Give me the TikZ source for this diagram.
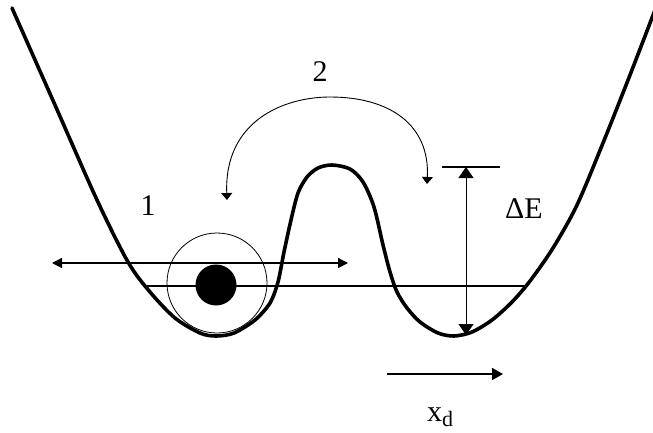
\documentclass[tikz,border=0pt]{standalone}
\usepackage{fontspec}
\setmainfont{Liberation Serif}
\usetikzlibrary{arrows.meta}
\begin{document}
\begin{tikzpicture}[x=1pt,y=-1pt,
  pot/.style={line width=3.6pt,line join=round,line cap=round},
  thin/.style={line width=1.3pt},
  lbl/.style={font=\fontsize{30}{30}\selectfont,inner sep=0pt}]
\useasboundingbox (0,0) rectangle (653,433);
% potential curve
\draw[pot] plot[smooth,tension=0.5] coordinates {
 (12,8) (55,105) (97,200) (128,262) (150,292) (175,318) (200,333)
 (216,336) (234,333) (255,320) (270,303) (278,282) (284,252) (291,220) (298,193) (307,177)
 (318,168) (332,165) (350,169) (363,182) (374,207) (383,245) (390,272) (397,292)
 (407,308) (420,322) (438,333) (454,336) (472,332) (492,320) (512,302) (530,281)
 (553,248) (577,205) (603,143) (630,75) (655,10)};
% ball and halo
\node[draw,circle,line width=0.8pt,minimum size=100pt,inner sep=0pt] (halo) at (217,283) {};
\node[fill=black,circle,minimum size=41pt,inner sep=0pt] (ball) at (216,285) {};
% oscillation double arrow
\coordinate (oscL) at (52,263);
\coordinate (oscR) at (348,263);
\draw[thin,{Triangle[length=10pt,width=10pt]}-{Triangle[length=10pt,width=10pt]}] (oscL) -- (oscR);
% energy level line
\coordinate (lvlL) at (146,286);
\coordinate (lvlR) at (527,286);
\draw[line width=1.6pt] (lvlL) -- (lvlR);
% barrier height arrow
\coordinate (barL) at (442,167);
\coordinate (barR) at (500,167);
\coordinate (eTop) at (466,167);
\coordinate (eBot) at (466,335);
\draw[thin] (barL) -- (barR);
\draw[line width=1pt,{Triangle[length=11pt,width=15pt]}-{Triangle[length=11pt,width=15pt]}] (eTop) -- (eBot);
\node[lbl] (dE) at (524,209) {ΔE};
% hop arrow
\coordinate (hopL) at (227,200);
\coordinate (hopR) at (427,184);
\draw[line width=0.9pt,{Triangle[length=7pt,width=11pt]}-{Triangle[length=7pt,width=11pt]}]
  (hopL) .. controls (224,120) and (285,97) .. (330,97)
         .. controls (390,97) and (430,125) .. (hopR);
% labels
\node[lbl] (one) at (148,206) {1};
\node[lbl] (two) at (320,72) {2};
% x_d arrow
\coordinate (xdL) at (387,374);
\coordinate (xdR) at (503,374);
\draw[line width=1.6pt,-{Triangle[length=11pt,width=12pt]}] (xdL) -- (xdR);
\node[lbl,anchor=base west] (xd) at (427,421) {x\raisebox{-0.18em}{\fontsize{22}{22}\selectfont d}};
\end{tikzpicture}
\end{document}
